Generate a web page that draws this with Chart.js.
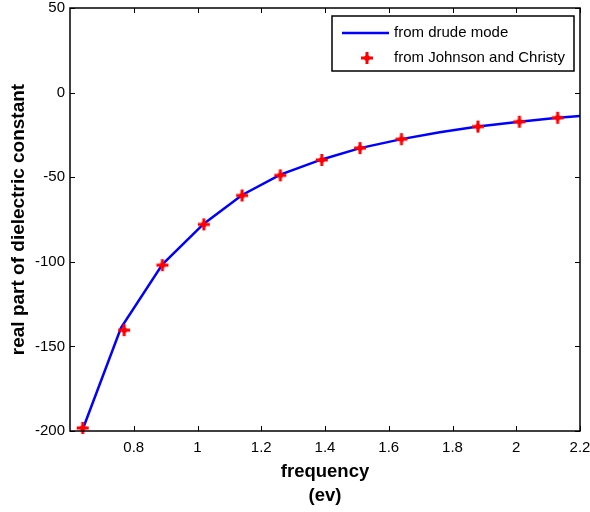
<!DOCTYPE html>
<html><head><meta charset="utf-8">
<script src="https://cdn.jsdelivr.net/npm/chart.js@4/dist/chart.umd.min.js"></script>
<style>html,body{margin:0;padding:0;background:#fff}#wrap{width:590px;height:512px}</style>
</head><body><div id="wrap"><canvas id="c" width="590" height="512"></canvas></div>
<script>
// Drude model curve (eV, real permittivity)
const drudeX = [0.64, 0.76, 0.89, 1.02, 1.14, 1.26, 1.39, 1.51, 1.64, 1.76, 1.88, 2.01, 2.13, 2.26];
const drudeY = [-199, -139, -101.5, -77.5, -60.5, -48.5, -39.5, -32.8, -27.5, -23.4, -20.1, -17.2, -14.9, -12.9];
// Johnson and Christy data
const jcX = [0.64, 0.77, 0.89, 1.02, 1.14, 1.26, 1.39, 1.51, 1.64, 1.88, 2.01, 2.13];
const jcY = [-198.2, -140.4, -102.0, -77.9, -60.8, -48.9, -39.8, -32.8, -27.5, -20.1, -17.2, -14.9];
// Tick labels
const xTicks = [0.8, 1, 1.2, 1.4, 1.6, 1.8, 2, 2.2];
const yTicks = [-200, -150, -100, -50, 0, 50];

const FONT = 'Liberation Sans, Arial, sans-serif';

const framePlugin = {
  id: 'frame',
  afterDraw(chart) {
    const ctx = chart.ctx, a = chart.chartArea;
    const xs = chart.scales.x, ys = chart.scales.y;
    ctx.save();
    ctx.strokeStyle = '#000';
    ctx.lineWidth = 1.5;
    ctx.strokeRect(a.left, a.top, a.right - a.left, a.bottom - a.top);
    ctx.lineWidth = 1;
    const L = 5;
    ctx.beginPath();
    xTicks.forEach(v => {
      const p = Math.round(xs.getPixelForValue(v)) + 0.5;
      ctx.moveTo(p, a.bottom); ctx.lineTo(p, a.bottom - L);
      ctx.moveTo(p, a.top); ctx.lineTo(p, a.top + L);
    });
    yTicks.forEach(v => {
      const p = Math.round(ys.getPixelForValue(v)) + 0.5;
      ctx.moveTo(a.left, p); ctx.lineTo(a.left + L, p);
      ctx.moveTo(a.right, p); ctx.lineTo(a.right - L, p);
    });
    ctx.stroke();
    // legend
    const bx = 332, by = 16, bw = 242, bh = 55;
    ctx.fillStyle = '#fff';
    ctx.fillRect(bx, by, bw, bh);
    ctx.lineWidth = 1.5;
    ctx.strokeRect(bx, by, bw, bh);
    ctx.strokeStyle = '#0000ff';
    ctx.lineWidth = 2.5;
    ctx.beginPath(); ctx.moveTo(342, 33); ctx.lineTo(389, 33); ctx.stroke();
    ctx.drawImage(marker, 360, 51);
    ctx.fillStyle = '#000';
    ctx.font = '15px ' + FONT;
    ctx.textBaseline = 'middle';
    ctx.textAlign = 'left';
    ctx.fillText('from drude mode', 394, 33);
    ctx.fillText('from Johnson and Christy', 394, 58);
    ctx.restore();
  }
};

// custom marker: thick plus
function makeMarker() {
  const c = document.createElement('canvas');
  c.width = 14; c.height = 14;
  const g = c.getContext('2d');
  g.strokeStyle = '#ff0000'; g.fillStyle = '#ff0000';
  g.lineWidth = 3;
  g.beginPath(); g.moveTo(7, 1); g.lineTo(7, 13); g.moveTo(1, 7); g.lineTo(13, 7); g.stroke();
  g.beginPath(); g.moveTo(7,3); g.lineTo(11,7); g.lineTo(7,11); g.lineTo(3,7); g.closePath(); g.fill();
  return c;
}
const marker = makeMarker();

new Chart(document.getElementById('c'), {
  type: 'scatter',
  data: {
    datasets: [
      {
        label: 'from drude mode',
        data: drudeX.map((x, i) => ({x, y: drudeY[i]})),
        showLine: true,
        borderColor: '#0000ff',
        borderWidth: 2.5,
        pointRadius: 0,
        fill: false,
        clip: 0,
        order: 2
      },
      {
        label: 'from Johnson and Christy',
        data: jcX.map((x, i) => ({x, y: jcY[i]})),
        showLine: false,
        pointStyle: marker,
        pointRadius: 7,
        clip: false,
        order: 1
      }
    ]
  },
  options: {
    responsive: false,
    animation: false,
    events: [],
    layout: { padding: { top: 8, right: 10, left: 3, bottom: 0 } },
    plugins: { legend: { display: false }, tooltip: { enabled: false } },
    scales: {
      x: {
        type: 'linear', min: 0.6, max: 2.2,
        afterBuildTicks: s => { s.ticks = xTicks.map(v => ({value: v})); },
        afterFit: s => { s.height = 81; s.paddingLeft = 0; s.paddingRight = 0; },
        grid: { display: false, drawTicks: false },
        border: { display: false },
        ticks: { color: '#000', font: { family: FONT, size: 15 }, padding: 8, maxRotation: 0,
                 callback: v => String(v) },
        title: { display: true, text: ['frequency', '(ev)'], color: '#000',
                 font: { family: FONT, size: 18.5, weight: 'bold', lineHeight: 1.3 }, padding: { top: 0 } }
      },
      y: {
        type: 'linear', min: -200, max: 50,
        afterBuildTicks: s => { s.ticks = yTicks.map(v => ({value: v})); },
        afterFit: s => { s.width = 67; s.paddingTop = 0; s.paddingBottom = 0; },
        grid: { display: false, drawTicks: false },
        border: { display: false },
        ticks: { color: '#000', font: { family: FONT, size: 15 }, padding: 5,
                 callback: v => String(v) },
        title: { display: true, text: 'real part of dielectric constant', color: '#000',
                 font: { family: FONT, size: 19, weight: 'bold' }, padding: { bottom: 0 } }
      }
    }
  },
  plugins: [framePlugin]
});
</script>
</body></html>
